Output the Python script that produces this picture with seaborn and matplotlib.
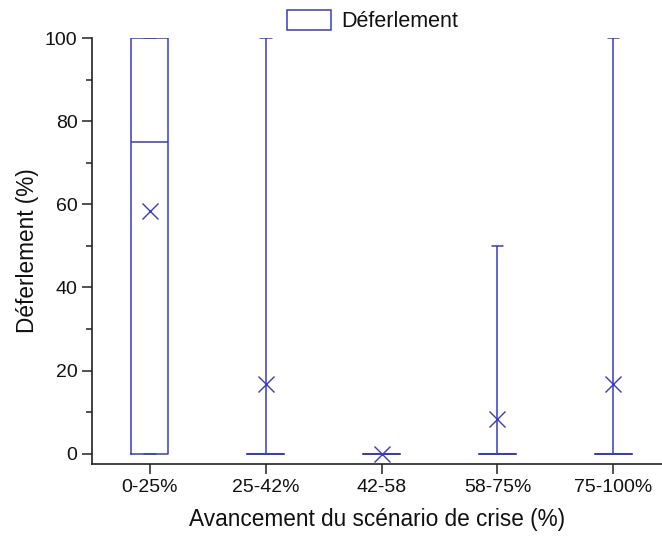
import seaborn as sns
import matplotlib.pyplot as plt
import pandas as pd
from matplotlib.patches import Patch
from matplotlib.ticker import MultipleLocator

sns.set_theme(style="ticks")
plt.rcParams['font.family'] = ['Liberation Sans', 'DejaVu Sans']
plt.rcParams['text.color'] = "#111111"
plt.rcParams['axes.labelcolor'] = "#111111"
plt.rcParams['xtick.color'] = "#222222"
plt.rcParams['ytick.color'] = "#222222"

# observations per phase of the scenario (12 runs each)
categories = ["0-25%", "25-42%", "42-58", "58-75%", "75-100%"]
obs_0_25 = [0, 0, 0, 0, 50, 50, 100, 100, 100, 100, 100, 100]
obs_25_42 = [0, 0, 0, 0, 0, 0, 0, 0, 0, 0, 100, 100]
obs_42_58 = [0, 0, 0, 0, 0, 0, 0, 0, 0, 0, 0, 0]
obs_58_75 = [0, 0, 0, 0, 0, 0, 0, 0, 0, 0, 50, 50]
obs_75_100 = [0, 0, 0, 0, 0, 0, 0, 0, 0, 0, 100, 100]

groups = [obs_0_25, obs_25_42, obs_42_58, obs_58_75, obs_75_100]
rows = []
for cat, vals in zip(categories, groups):
    for v in vals:
        rows.append({"phase": cat, "val": v})
df = pd.DataFrame(rows)

blue = "#3a3ac4"

fig = plt.figure(figsize=(6.62, 5.36), dpi=100)
ax = fig.add_axes([0.139, 0.134, 0.861, 0.795])

sns.boxplot(data=df, x="phase", y="val", order=categories, ax=ax,
            whis=(0, 100), width=0.32, fill=False, color=blue,
            linewidth=1.1, showfliers=False, showmeans=True,
            meanprops=dict(marker="x", markeredgecolor=blue,
                           markersize=11, markeredgewidth=1.0),
            capwidths=0.1)

ax.set_ylim(-2.5, 100)
ax.set_xlim(-0.5, 4.42)
ax.yaxis.set_major_locator(MultipleLocator(20))
ax.yaxis.set_minor_locator(MultipleLocator(10))
ax.tick_params(axis="both", which="major", length=7, width=1.1,
               labelsize=14, labelcolor="#111111")
ax.tick_params(axis="y", which="minor", length=4, width=1.1)
for s in ["left", "bottom"]:
    ax.spines[s].set_linewidth(1.2)
    ax.spines[s].set_color("#222222")
sns.despine(ax=ax)

ax.set_xlabel("Avancement du scénario de crise (%)", fontsize=16.3, labelpad=9)
ax.set_ylabel("Déferlement (%)", fontsize=16.3, labelpad=4)

handle = Patch(facecolor="white", edgecolor=blue, linewidth=1.1)
fig.legend([handle], ["Déferlement"], loc="center", bbox_to_anchor=(0.563, 0.961),
           frameon=False, fontsize=15.5, handlelength=2.05, handleheight=1.07,
           handletextpad=0.5)

plt.savefig("out.png", dpi=100)
